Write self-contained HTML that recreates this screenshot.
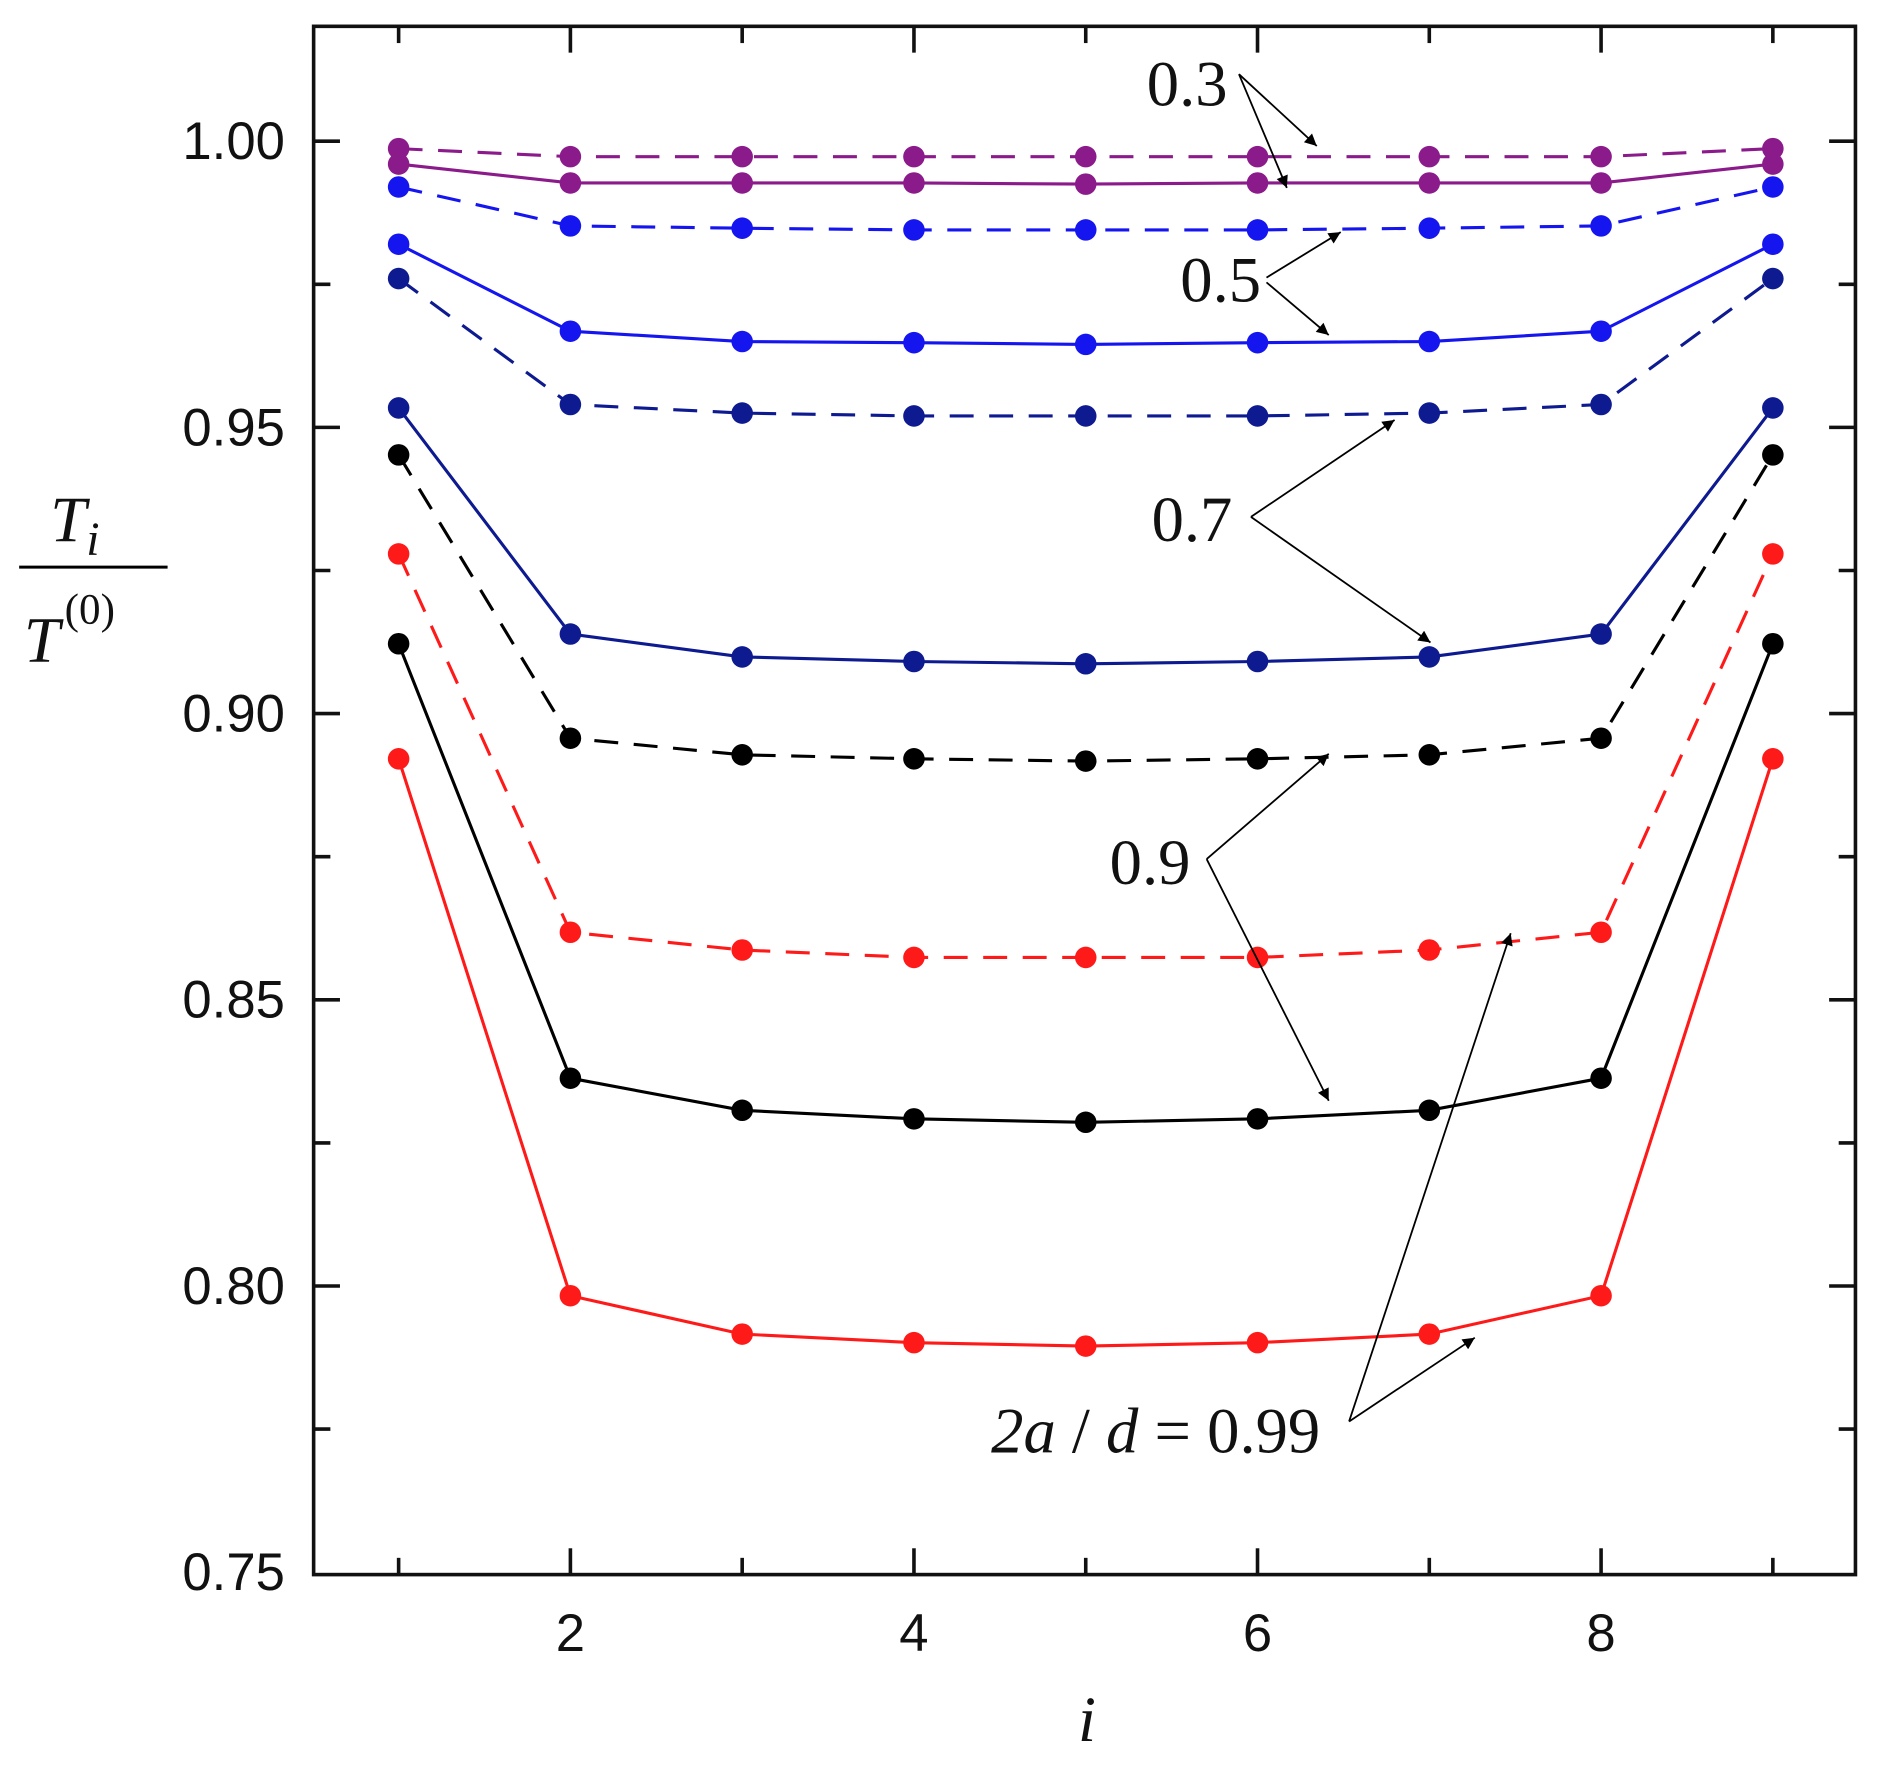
<!DOCTYPE html>
<html><head><meta charset="utf-8"><style>
html,body{margin:0;padding:0;background:#fff;}
svg{display:block;}
.tk{font-family:"Liberation Sans",Arial,sans-serif;font-size:44px;fill:#111;}
.an{font-family:"Liberation Serif","Times New Roman",serif;font-size:54px;fill:#111;}
</style></head><body>
<svg id="chart" width="1877" height="1778" viewBox="0 0 1568 1486" preserveAspectRatio="none" xmlns="http://www.w3.org/2000/svg">
<defs><marker id="ah" viewBox="0 0 10 10" refX="10" refY="5" markerWidth="16" markerHeight="10" markerUnits="userSpaceOnUse" orient="auto"><path d="M0,0 L10,5 L0,10 z" fill="#000"/></marker></defs>
<g id="grid"></g>
<g id="series"></g>
<g id="annot"></g>
</svg>
<script>
const categories=[1,2,3,4,5,6,7,8,9];
const s03dash=[0.9987,0.9973,0.9973,0.9973,0.9973,0.9973,0.9973,0.9973,0.9987];
const s03solid=[0.996,0.9927,0.9927,0.9927,0.9925,0.9927,0.9927,0.9927,0.996];
const s05dash=[0.992,0.9852,0.9848,0.9845,0.9845,0.9845,0.9848,0.9852,0.992];
const s05solid=[0.982,0.9668,0.965,0.9648,0.9645,0.9648,0.965,0.9668,0.982];
const s07dash=[0.976,0.954,0.9525,0.952,0.952,0.952,0.9525,0.954,0.976];
const s07solid=[0.9534,0.9139,0.9099,0.9091,0.9087,0.9091,0.9099,0.9139,0.9534];
const s09dash=[0.9452,0.8957,0.8928,0.8921,0.8917,0.8921,0.8928,0.8957,0.9452];
const s099dash=[0.9279,0.8618,0.8587,0.8574,0.8574,0.8574,0.8587,0.8618,0.9279];
const s09solid=[0.9122,0.8363,0.8307,0.8292,0.8286,0.8292,0.8307,0.8363,0.9122];
const s099solid=[0.8921,0.7983,0.7916,0.7901,0.7895,0.7901,0.7916,0.7983,0.8921];
const yTicks=[0.75,0.80,0.85,0.90,0.95,1.00];
const yTickLabels=["0.75","0.80","0.85","0.90","0.95","1.00"];
const xTicks=[2,4,6,8];
const xTickLabels=["2","4","6","8"];

const NS="http://www.w3.org/2000/svg";
const X0=262,X1=1550,Y0=22,Y1=1316;
function xs(v){return 333+(v-1)*143.5;}
function ys(v){return 118+(1-v)*4784;}
function mk(tag,attrs,parent){const e=document.createElementNS(NS,tag);for(const k in attrs)e.setAttribute(k,attrs[k]);parent.appendChild(e);return e;}
const grid=document.getElementById('grid'),ser=document.getElementById('series'),ann=document.getElementById('annot');

const frame=mk('rect',{x:X0,y:Y0,width:X1-X0,height:Y1-Y0,fill:'none',stroke:'#111','stroke-width':3},grid);


for(let v=0.775;v<=1.0251;v+=0.025){
  const y=ys(v);const major=Math.abs((v*20)-Math.round(v*20))<0.01;const L=major?22:14;
  const t1=mk('line',{x1:X0,y1:y,x2:X0+L,y2:y,stroke:'#111','stroke-width':3},grid);
  
  
  const t2=mk('line',{x1:X1,y1:y,x2:X1-L,y2:y,stroke:'#111','stroke-width':3},grid);
  
  
}
for(let v=1;v<=9;v++){
  const x=xs(v);const L=v%2==0?22:14;
  const t1=mk('line',{x1:x,y1:Y1,x2:x,y2:Y1-L,stroke:'#111','stroke-width':3},grid);
  
  
  const t2=mk('line',{x1:x,y1:Y0,x2:x,y2:Y0+L,stroke:'#111','stroke-width':3},grid);
  
  
}
yTicks.forEach((v,i)=>{const t=mk('text',{x:X0-24,y:ys(v)+15,'text-anchor':'end',class:'tk'},grid);t.textContent=yTickLabels[i];
  
  });
xTicks.forEach((v,i)=>{const t=mk('text',{x:xs(v),y:1380,'text-anchor':'middle',class:'tk'},grid);t.textContent=xTickLabels[i];
  
  });

const seriesDefs=[
 [s03dash,'#8b1a8b',true,'series-0.3-dashed'],
 [s03solid,'#8b1a8b',false,'series-0.3-solid'],
 [s05dash,'#1515f0',true,'series-0.5-dashed'],
 [s05solid,'#1515f0',false,'series-0.5-solid'],
 [s07dash,'#0d1a90',true,'series-0.7-dashed'],
 [s07solid,'#0d1a90',false,'series-0.7-solid'],
 [s09dash,'#000',true,'series-0.9-dashed'],
 [s099dash,'#ff1a1a',true,'series-0.99-dashed'],
 [s09solid,'#000',false,'series-0.9-solid'],
 [s099solid,'#ff1a1a',false,'series-0.99-solid']];
seriesDefs.forEach(([vals,col,dash,name])=>{
  const g=mk('g',{},ser);
  
  
  const pts=vals.map((v,i)=>xs(categories[i])+','+ys(v)).join(' ');
  const pl=mk('polyline',{points:pts,fill:'none',stroke:col,'stroke-width':2.6,'stroke-dasharray':dash?'20 13':'none'},g);
  
  
  vals.forEach((v,i)=>{const c=mk('circle',{cx:xs(categories[i]),cy:ys(v),r:9,fill:col},g);
    
    });
});

function arrow(x1,y1,x2,y2){const a=mk('line',{x1,y1,x2,y2,stroke:'#000','stroke-width':1.5,'marker-end':'url(#ah)'},ann);
  
  }
function label(x,y,txt,name){const t=mk('text',{x,y,class:'an'},ann);t.innerHTML=txt;
  
  }
label(958,88,'0.3','label-0.3');
arrow(1035,62,1100,122);arrow(1035,62,1075,157);
label(986,252,'0.5','label-0.5');
arrow(1058,232,1120,194);arrow(1058,236,1110,280);
label(962,452,'0.7','label-0.7');
arrow(1045,432,1165,351);arrow(1045,432,1195,537);
label(927,739,'0.9','label-0.9');
arrow(1008,718,1110,630);arrow(1008,718,1110,920);
label(828,1214,'<tspan font-style="italic">2a</tspan> / <tspan font-style="italic">d</tspan> = 0.99','label-0.99');
arrow(1127,1188,1262,780);arrow(1127,1188,1232,1118);

const xl=mk('text',{x:908,y:1455,class:'an','font-style':'italic','font-size':58,'text-anchor':'middle'},ann);xl.textContent='i';


const yl=mk('g',{},ann);


const yt1=mk('text',{x:42,y:452,class:'an','font-style':'italic','font-size':66},yl);yt1.innerHTML='T<tspan font-size="40" dy="12">i</tspan>';
mk('line',{x1:16,y1:474,x2:140,y2:474,stroke:'#000','stroke-width':2.5},yl);
const yt2=mk('text',{x:20,y:553,class:'an','font-size':66},yl);yt2.innerHTML='<tspan font-style="italic">T</tspan><tspan font-size="36" dx="4" dy="-32">(0)</tspan>';
</script>
</body></html>
